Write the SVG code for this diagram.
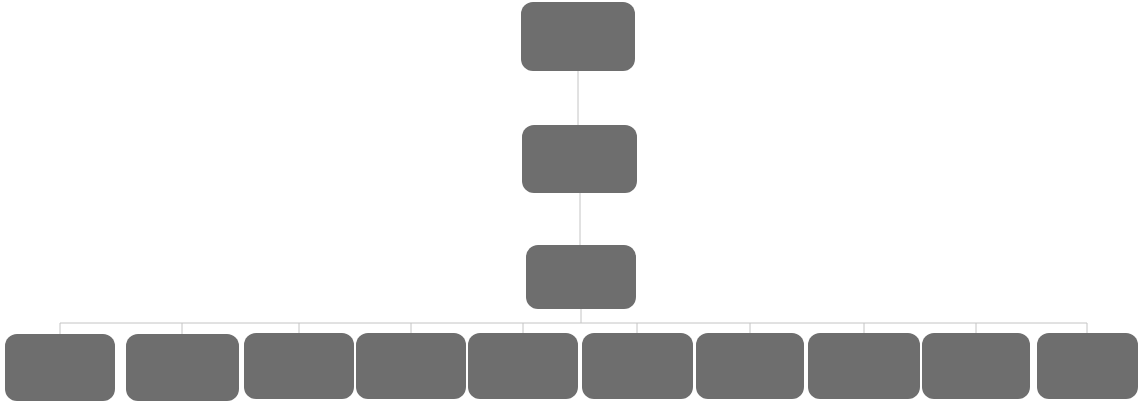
<svg xmlns="http://www.w3.org/2000/svg" width="1140" height="403" viewBox="0 0 1140 403">
<style>
.node rect{fill:#6e6e6e;stroke:none}
.edge{fill:none;stroke:#c4c4c4;stroke-width:1}
</style>
<rect width="1140" height="403" fill="#ffffff"/>
<g id="connectors">
<path class="edge" d="M578,71 V125"/>
<path class="edge" d="M580,193 V245"/>
<path class="edge" d="M581,309 V323 M60,323 H1087 M60,323 V334 M182,323 V334 M299,323 V333 M411,323 V333 M523,323 V333 M637,323 V333 M750,323 V333 M864,323 V333 M976,323 V333 M1087,323 V333"/>
</g>
<g id="n1" class="node"><rect x="521" y="2" width="114" height="69" rx="12"/></g>
<g id="n2" class="node"><rect x="522" y="125" width="115" height="68" rx="12"/></g>
<g id="n3" class="node"><rect x="526" y="245" width="110" height="64" rx="12"/></g>
<g id="c1" class="node"><rect x="5" y="334" width="110" height="67" rx="12"/></g>
<g id="c2" class="node"><rect x="126" y="334" width="113" height="67" rx="12"/></g>
<g id="c3" class="node"><rect x="244" y="333" width="110" height="66" rx="12"/></g>
<g id="c4" class="node"><rect x="356" y="333" width="110" height="66" rx="12"/></g>
<g id="c5" class="node"><rect x="468" y="333" width="110" height="66" rx="12"/></g>
<g id="c6" class="node"><rect x="582" y="333" width="111" height="66" rx="12"/></g>
<g id="c7" class="node"><rect x="696" y="333" width="108" height="66" rx="12"/></g>
<g id="c8" class="node"><rect x="808" y="333" width="112" height="66" rx="12"/></g>
<g id="c9" class="node"><rect x="922" y="333" width="108" height="66" rx="12"/></g>
<g id="c10" class="node"><rect x="1037" y="333" width="101" height="66" rx="12"/></g>
</svg>
